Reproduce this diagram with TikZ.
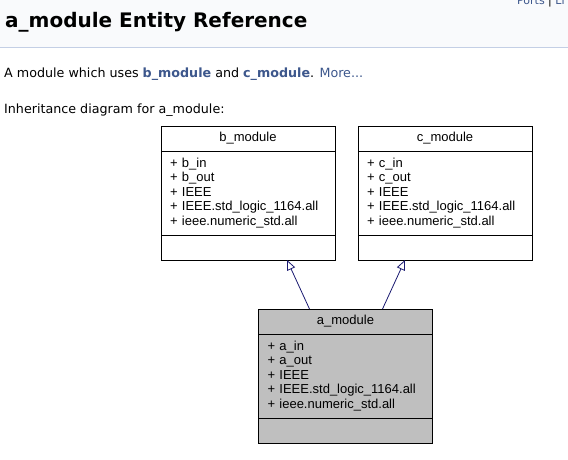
\documentclass[tikz,border=0pt]{standalone}
\usepackage{fontspec}
\setmainfont{DejaVu Sans}
\newfontfamily\dotfont{Liberation Sans}
\usetikzlibrary{positioning,arrows.meta}

\definecolor{headbg}{HTML}{F9FAFC}
\definecolor{headline}{HTML}{C4CFE5}
\definecolor{linkcol}{HTML}{3D578C}
\definecolor{edgecol}{HTML}{191970}
\definecolor{basefill}{HTML}{BFBFBF}

\tikzset{
  classname/.style={draw=black, fill=white, line width=0.9pt, minimum width=174pt,
    minimum height=25pt, inner sep=0pt, outer sep=0pt,
    font=\dotfont\fontsize{13}{14.5}\selectfont},
  classattr/.style={classname, minimum height=84pt, text width=156pt, align=left},
  classops/.style={classname},
  current/.style={fill=basefill},
  inherit/.style={draw=edgecol, line width=0.8pt,
    -{Triangle[open, length=10pt, width=8.5pt, fill=white]}},
  pagetext/.style={anchor=base west, inner sep=0pt}
}

\begin{document}
\begin{tikzpicture}[x=1pt, y=-1pt]
  \useasboundingbox (0,0) rectangle (568,459);
  \clip (0,0) rectangle (568,459);

  \fill[headbg] (0,0) rectangle (568,47);
  \draw[headline, line width=1pt] (0,47.5) -- (568,47.5);

  \node[pagetext, font=\fontsize{11}{13}\selectfont] (links) at (517,4)
    {\textcolor{linkcol}{Ports} | \textcolor{linkcol}{Li}};
  \node[pagetext, font=\bfseries\fontsize{20}{24}\selectfont] (title) at (5,27)
    {a\_module Entity Reference};
  \node[pagetext, font=\fontsize{12.7}{15}\selectfont] (brief) at (4,77)
    {A module which uses \textcolor{linkcol}{\bfseries b\_module} and
     \textcolor{linkcol}{\bfseries c\_module}. \textcolor{linkcol}{More...}};
  \node[pagetext, font=\fontsize{12.7}{15}\selectfont] (diagcap) at (4,113)
    {Inheritance diagram for a\_module:};

  \node[classname] (bname) at (248,138.5) {b\_module};
  \node[classattr, below=0pt of bname] (battr)
    {+ b\_in\\+ b\_out\\+ IEEE\\+ IEEE.std\_logic\_1164.all\\+ ieee.numeric\_std.all};
  \node[classops, below=0pt of battr] (bops) {};

  \node[classname] (cname) at (445,138.5) {c\_module};
  \node[classattr, below=0pt of cname] (cattr)
    {+ c\_in\\+ c\_out\\+ IEEE\\+ IEEE.std\_logic\_1164.all\\+ ieee.numeric\_std.all};
  \node[classops, below=0pt of cattr] (cops) {};

  \node[classname, current] (aname) at (345.5,321.5) {a\_module};
  \node[classattr, current, below=0pt of aname] (aattr)
    {+ a\_in\\+ a\_out\\+ IEEE\\+ IEEE.std\_logic\_1164.all\\+ ieee.numeric\_std.all};
  \node[classops, current, below=0pt of aattr] (aops) {};

  \draw[inherit] ([xshift=51pt]aname.north west) -- ([xshift=126pt]bops.south west);
  \draw[inherit] ([xshift=124pt]aname.north west) -- ([xshift=47pt]cops.south west);
\end{tikzpicture}
\end{document}
